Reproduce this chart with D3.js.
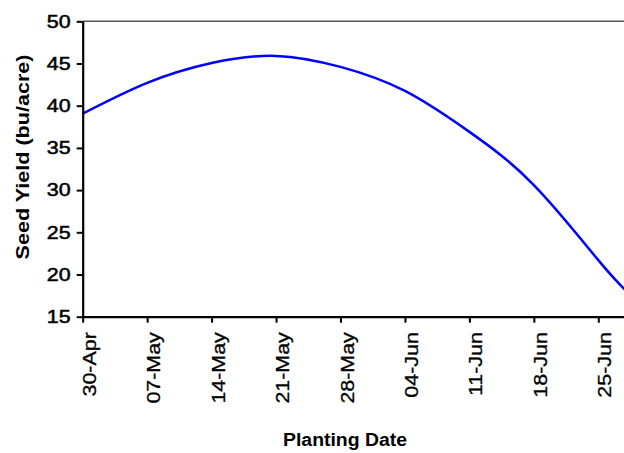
<!DOCTYPE html>
<html>
<head>
<meta charset="utf-8">
<script src="https://cdn.jsdelivr.net/npm/d3@7"></script>
<style>
  body { margin: 0; background: #fff; }
  svg text { font-family: "Liberation Sans", Arial, sans-serif; fill: #000; }
</style>
</head>
<body>
<svg width="624" height="453"></svg>
<script>
const margin = { top: 21.3, left: 82.7 };
const svg = d3.select("svg");
const parseDate = d3.timeParse("%Y-%m-%d");

// readings (planting date -> seed yield, bu/acre)
const plantDates = ["2009-04-30", "2009-05-07", "2009-05-14", "2009-05-21", "2009-05-28",
    "2009-06-04", "2009-06-11", "2009-06-18", "2009-06-25", "2009-06-28"];
const seedYield = [39.05, 42.7, 45.05, 45.9, 44.6, 41.75, 36.9, 30.6, 21.7, 18.1];

const xTickDates = ["2009-04-30", "2009-05-07", "2009-05-14", "2009-05-21", "2009-05-28",
    "2009-06-04", "2009-06-11", "2009-06-18", "2009-06-25"];
const yTicks = [15, 20, 25, 30, 35, 40, 45, 50];

const data = plantDates.map(function (d, i) {
    return { date: parseDate(d), value: seedYield[i] };
});

// one week ~ 64.45px, plot runs past the right edge of the picture
const pxPerDay = 64.45 / 7;
const xStart = parseDate("2009-04-30");
const xEnd = parseDate("2009-07-02");
const x = d3.scaleTime()
    .domain([xStart, xEnd])
    .range([margin.left, margin.left + pxPerDay * 63]);
const y = d3.scaleLinear()
    .domain([15, 50])
    .range([316.7, margin.top]);

const stretch = 1.19;
function widen(sel) {
    sel.each(function () {
        const len = this.getComputedTextLength();
        d3.select(this).attr("textLength", len * stretch).attr("lengthAdjust", "spacingAndGlyphs");
    });
}

// top border
svg.append("line")
    .attr("x1", x(xStart)).attr("x2", x(xEnd))
    .attr("y1", y(50)).attr("y2", y(50))
    .attr("stroke", "#555").attr("stroke-width", 1.5);

// line
svg.append("path")
    .datum(data)
    .attr("fill", "none")
    .attr("stroke", "#0000ff")
    .attr("stroke-width", 2.5)
    .attr("d", d3.line()
        .x(function (d) { return x(d.date); })
        .y(function (d) { return y(d.value); })
        .curve(d3.curveNatural));

// y axis
const yAxis = svg.append("g")
    .attr("transform", "translate(" + margin.left + ",0)")
    .call(d3.axisLeft(y).tickValues(yTicks).tickSize(6).tickPadding(6).tickSizeOuter(0));
yAxis.select(".domain").attr("stroke", "#000").attr("stroke-width", 2.2);
yAxis.selectAll(".tick line").attr("stroke", "#000").attr("stroke-width", 2);
yAxis.selectAll(".tick text")
    .attr("font-size", 18)
    .attr("font-family", "Liberation Sans, Arial, sans-serif")
    .attr("stroke", "#000").attr("stroke-width", 0.5)
    .call(widen);

// x axis
const xAxis = svg.append("g")
    .attr("transform", "translate(0," + y(15) + ")")
    .call(d3.axisBottom(x)
        .tickValues(xTickDates.map(parseDate))
        .tickFormat(d3.timeFormat("%d-%b"))
        .tickSize(6).tickSizeOuter(0));
xAxis.select(".domain").attr("stroke", "#000").attr("stroke-width", 2.2);
xAxis.selectAll(".tick line").attr("stroke", "#000").attr("stroke-width", 2);
xAxis.selectAll(".tick text")
    .attr("font-size", 18)
    .attr("font-family", "Liberation Sans, Arial, sans-serif")
    .attr("text-anchor", "end")
    .attr("dy", null)
    .attr("y", 0)
    .attr("stroke", "#000").attr("stroke-width", 0.3)
    .attr("transform", "translate(12.5,15.5) rotate(-90)")
    .call(widen);

// axis titles
svg.append("text")
    .attr("transform", "translate(29,157) rotate(-90)")
    .attr("text-anchor", "middle")
    .attr("font-size", 18)
    .attr("font-weight", "bold")
    .attr("textLength", 205)
    .attr("lengthAdjust", "spacingAndGlyphs")
    .text("Seed Yield (bu/acre)");

svg.append("text")
    .attr("x", 345)
    .attr("y", 446)
    .attr("text-anchor", "middle")
    .attr("font-size", 18)
    .attr("font-weight", "bold")
    .attr("textLength", 124)
    .attr("lengthAdjust", "spacingAndGlyphs")
    .text("Planting Date");
</script>
</body>
</html>
